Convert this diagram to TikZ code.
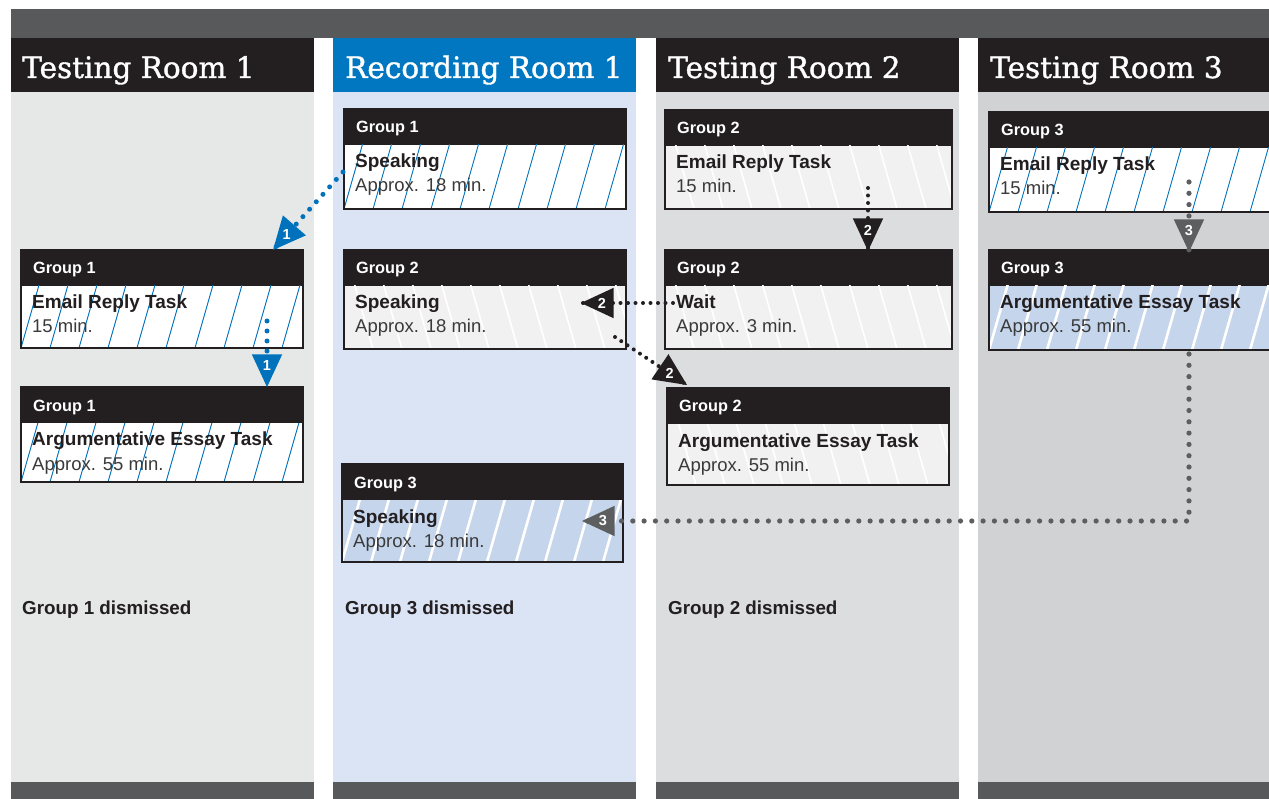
\documentclass[tikz,border=0pt]{standalone}
\usepackage{fontspec}
\setmainfont{Liberation Sans}
\newfontfamily\hdrfont[FakeBold=1.2]{DejaVu Serif}
\usetikzlibrary{calc}
\definecolor{topbar}{HTML}{58595B}
\definecolor{hdrdark}{HTML}{231F20}
\definecolor{hdrblue}{HTML}{0077C0}
\definecolor{colA}{HTML}{E6E7E7}
\definecolor{colB}{HTML}{DBE4F5}
\definecolor{colC}{HTML}{DCDDDF}
\definecolor{colD}{HTML}{D1D2D4}
\definecolor{fillB}{HTML}{F1F1F1}
\definecolor{fillC}{HTML}{C5D5EC}
\definecolor{blueline}{HTML}{0072BC}
\definecolor{mkgray}{HTML}{5D5E60}
\definecolor{subtext}{HTML}{3A3A3A}
\def\dxA{20}\def\dxB{-20}\def\dxC{20}
\tikzset{
  hdrbox/.style={fill=hdrdark, draw=none, minimum height=36pt, inner sep=0pt, outer sep=0pt},
  grp/.style={text=white, font=\bfseries\fontsize{16.3}{19}\selectfont, inner sep=0pt},
  bodyA/.style={fill=white, inner sep=0pt, outer sep=0pt},
  bodyB/.style={fill=fillB, inner sep=0pt, outer sep=0pt},
  bodyC/.style={fill=fillC, inner sep=0pt, outer sep=0pt},
  hatchA/.style={draw=blueline, line width=0.9pt},
  hatchB/.style={draw=white, line width=1.6pt},
  hatchC/.style={draw=white, line width=2.6pt},
  ttl/.style={text=hdrdark, font=\bfseries\fontsize{19}{22}\selectfont, inner sep=0pt},
  subt/.style={text=subtext, font=\fontsize{18.5}{21}\selectfont, inner sep=0pt},
  boxline/.style={draw=hdrdark, line width=2.4pt},
  colhdr/.style={minimum height=54pt, inner sep=0pt, outer sep=0pt, anchor=north west},
  roomtitle/.style={text=white, font=\hdrfont\fontsize{29.5}{33}\selectfont, inner sep=0pt, anchor=base west},
  dismiss/.style={text=hdrdark, font=\bfseries\fontsize{18.8}{22}\selectfont, inner sep=0pt, anchor=base west},
  num/.style={text=white, font=\bfseries\fontsize{14.5}{16}\selectfont, inner sep=0pt},
  dotblue/.style={draw=blueline, line width=5pt, line cap=round, dash pattern=on 0pt off 10pt},
  dotblack/.style={draw=hdrdark, line width=4pt, line cap=round, dash pattern=on 0pt off 7.5pt},
  dotgray/.style={draw=mkgray, line width=5.2pt, line cap=round, dash pattern=on 0pt off 11.3pt},
}
% #1 name, #2 x, #3 y, #4 width, #5 body height, #6 group, #7 kind, #8 title, #9 sub
\newcommand\taskbox[9]{%
  \node[hdrbox, minimum width=#4pt, anchor=north west] (#1-h) at (#2,#3) {};
  \node[grp, anchor=base west] (#1-g) at ($(#1-h.north west)+(12,24)$) {#6};
  \node[body#7, minimum width=#4pt, minimum height=#5pt, anchor=north west] (#1-b) at (#1-h.south west) {};
  \begin{scope}
    \clip (#1-b.south west) rectangle (#1-b.north east);
    \foreach \k in {-1,...,11} \draw[hatch#7] ($(#1-b.south west)+(\k*29,0)$) -- ++(\csname dx#7\endcsname,-70);
  \end{scope}
  \node[ttl, anchor=base west] (#1-t) at ($(#1-b.north west)+(11,23)$) {#8};
  \node[subt, anchor=base west] (#1-s) at ($(#1-b.north west)+(11,47)$) {#9};
  \draw[boxline] (#1-h.north west) rectangle (#1-b.south east);
}
% marker: #1 name, #2 angle (image coords), #3 colour, #4 number
\newcommand\mkdraw[4]{%
  \fill[#3] (#1-tip) -- ($(#1-tip)+(#2+155:36)$) -- ($(#1-tip)+(#2+205:36)$) -- cycle;
  \node[num] (#1) at ($(#1-tip)+(#2+180:21)$) {#4};
}
\begin{document}
\begin{tikzpicture}[x=1pt,y=-1pt]
\clip (0,0) rectangle (1269,799);
\fill[white] (0,0) rectangle (1269,799);
% columns
\fill[colA] (11,38) rectangle (314,782);
\fill[colB] (333,38) rectangle (636,782);
\fill[colC] (656,38) rectangle (959,782);
\fill[colD] (978,38) rectangle (1269,782);
\fill[topbar] (11,9) rectangle (1269,38);
\fill[topbar] (11,782) rectangle (314,799);
\fill[topbar] (333,782) rectangle (636,799);
\fill[topbar] (656,782) rectangle (959,799);
\fill[topbar] (978,782) rectangle (1269,799);
% column headers
\node[colhdr, fill=hdrdark, minimum width=303pt] (ch1) at (11,38) {};
\node[colhdr, fill=hdrblue, minimum width=303pt] (ch2) at (333,38) {};
\node[colhdr, fill=hdrdark, minimum width=303pt] (ch3) at (656,38) {};
\node[colhdr, fill=hdrdark, minimum width=291pt] (ch4) at (978,38) {};
\node[roomtitle] (ct1) at (22,78) {Testing Room 1};
\node[roomtitle] (ct2) at (345,78) {Recording Room 1};
\node[roomtitle] (ct3) at (668,78) {Testing Room 2};
\node[roomtitle] (ct4) at (990,78) {Testing Room 3};
% task boxes
\taskbox{r1g1}{344}{109}{282}{64}{Group 1}{A}{Speaking}{Approx. 18 min.}
\taskbox{r1g2}{344}{250}{282}{63}{Group 2}{B}{Speaking}{Approx. 18 min.}
\taskbox{r1g3}{342}{464}{281}{62}{Group 3}{C}{Speaking}{Approx. 18 min.}
\taskbox{t1e}{21}{250}{282}{62}{Group 1}{A}{Email Reply Task}{15 min.}
\taskbox{t1a}{21}{387}{282}{59}{Group 1}{A}{Argumentative Essay Task}{Approx. 55 min.}
\taskbox{t2e}{665}{110}{287}{63}{Group 2}{B}{Email Reply Task}{15 min.}
\taskbox{t2w}{665}{250}{287}{63}{Group 2}{B}{Wait}{Approx. 3 min.}
\taskbox{t2a}{667}{388}{282}{61}{Group 2}{B}{Argumentative Essay Task}{Approx. 55 min.}
\taskbox{t3e}{989}{112}{300}{64}{Group 3}{A}{Email Reply Task}{15 min.}
\taskbox{t3a}{989}{250}{300}{64}{Group 3}{C}{Argumentative Essay Task}{Approx. 55 min.}
% dismissed labels
\node[dismiss] (d1) at (22,614) {Group 1 dismissed};
\node[dismiss] (d3) at (345,614) {Group 3 dismissed};
\node[dismiss] (d2) at (668,614) {Group 2 dismissed};
% connector ends
\coordinate (m1-tip) at (273,250);
\coordinate (m2-tip) at (267,387);
\coordinate (m3-tip) at (868,251);
\coordinate (m4-tip) at (581,303);
\coordinate (m5-tip) at (687,385);
\coordinate (m6-tip) at (1189,252);
\coordinate (m7-tip) at (582,521);
\coordinate (c1s) at (343,172);
\coordinate (c2s) at (267,321);
\coordinate (c3s) at (868,188);
\coordinate (c4s) at (673,303);
\coordinate (c5s) at (615,337);
\coordinate (c6s) at (1189,182);
\coordinate (c7s) at (1189,354);
% connectors
\draw[dotblue] (c1s) -- (m1-tip);
\draw[dotblue] (c2s) -- (m2-tip);
\draw[dotblack] (c3s) -- (m3-tip);
\draw[dotblack] (c4s) -- (m4-tip);
\draw[dotblack] (c5s) -- (m5-tip);
\draw[dotgray] (c6s) -- (m6-tip);
\draw[dotgray] (c7s) |- (m7-tip);
% markers
\mkdraw{m1}{131}{blueline}{1}
\mkdraw{m2}{90}{blueline}{1}
\mkdraw{m3}{90}{hdrdark}{2}
\mkdraw{m4}{180}{hdrdark}{2}
\mkdraw{m5}{34}{hdrdark}{2}
\mkdraw{m6}{90}{mkgray}{3}
\mkdraw{m7}{180}{mkgray}{3}
\end{tikzpicture}
\end{document}
